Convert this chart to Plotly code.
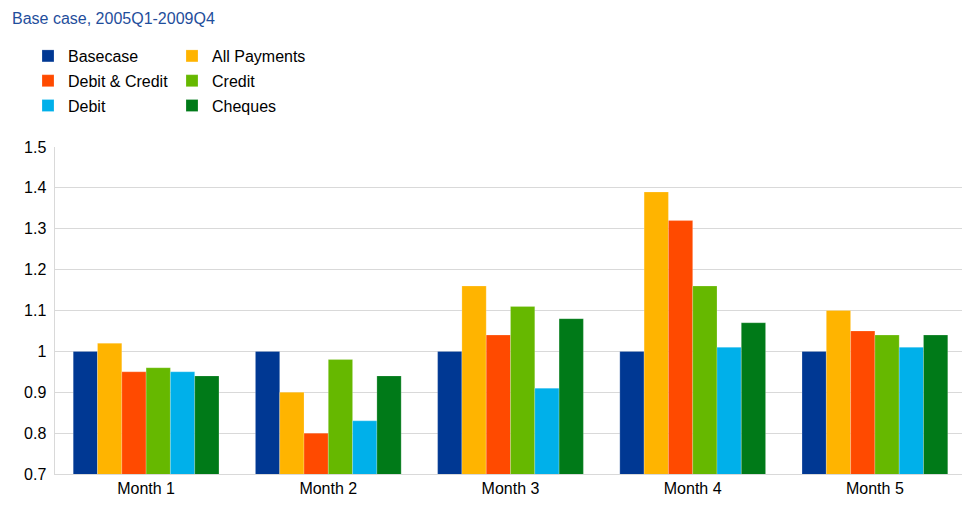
import plotly.graph_objects as go

categories = ["Month 1", "Month 2", "Month 3", "Month 4", "Month 5"]
basecase = [1.00, 1.00, 1.00, 1.00, 1.00]
all_payments = [1.02, 0.90, 1.16, 1.39, 1.10]
debit_credit = [0.95, 0.80, 1.04, 1.32, 1.05]
credit = [0.96, 0.98, 1.11, 1.16, 1.04]
debit = [0.95, 0.83, 0.91, 1.01, 1.01]
cheques = [0.94, 0.94, 1.08, 1.07, 1.04]

series = [
    ("Basecase", basecase, "#003893", "legend"),
    ("All Payments", all_payments, "#FFB400", "legend2"),
    ("Debit & Credit", debit_credit, "#FF4A00", "legend"),
    ("Credit", credit, "#66B800", "legend2"),
    ("Debit", debit, "#00B0EA", "legend"),
    ("Cheques", cheques, "#007A18", "legend2"),
]

fig = go.Figure()
for name, vals, color, lg in series:
    fig.add_trace(go.Bar(
        x=categories, y=vals, name=name, legend=lg, legendgroup=name,
        marker=dict(color=color, line=dict(color="rgba(255,255,255,0.35)", width=0.6)),
    ))

W, H = 970, 516
font_family = "Liberation Sans, Arial, sans-serif"
legend_common = dict(
    orientation="v", xref="container", yref="container",
    xanchor="left", yanchor="top", bgcolor="rgba(0,0,0,0)",
    font=dict(family=font_family, size=16, color="#000000"),
    itemwidth=30, tracegroupgap=1,
)

fig.update_layout(
    width=W, height=H,
    paper_bgcolor="white", plot_bgcolor="white",
    margin=dict(l=47, r=12, t=139, b=50, autoexpand=False),
    barmode="group", bargap=0.2, bargroupgap=0,
    title=dict(text="Base case, 2005Q1-2009Q4", x=4/W, xanchor="left",
               y=1 - 10/H, yanchor="middle",
               font=dict(family=font_family, size=16, color="#1F4E9C")),
    legend=dict(x=20/W, y=1 - 31/H, **legend_common),
    legend2=dict(x=164/W, y=1 - 31/H, **legend_common),
    font=dict(family=font_family, size=16, color="#000000"),
    xaxis=dict(showline=True, linecolor="#d9d9d9", linewidth=1, ticks="",
               tickfont=dict(size=16, color="#000000")),
    yaxis=dict(range=[0.7, 1.5], dtick=0.1, tick0=0.7, showgrid=True, gridcolor="#d9d9d9",
               zeroline=False, showline=True, linecolor="#d9d9d9",
               tickfont=dict(size=16, color="#000000"), ticksuffix=" ",
               tickformat="~g"),
)

fig.write_html("out.html")
